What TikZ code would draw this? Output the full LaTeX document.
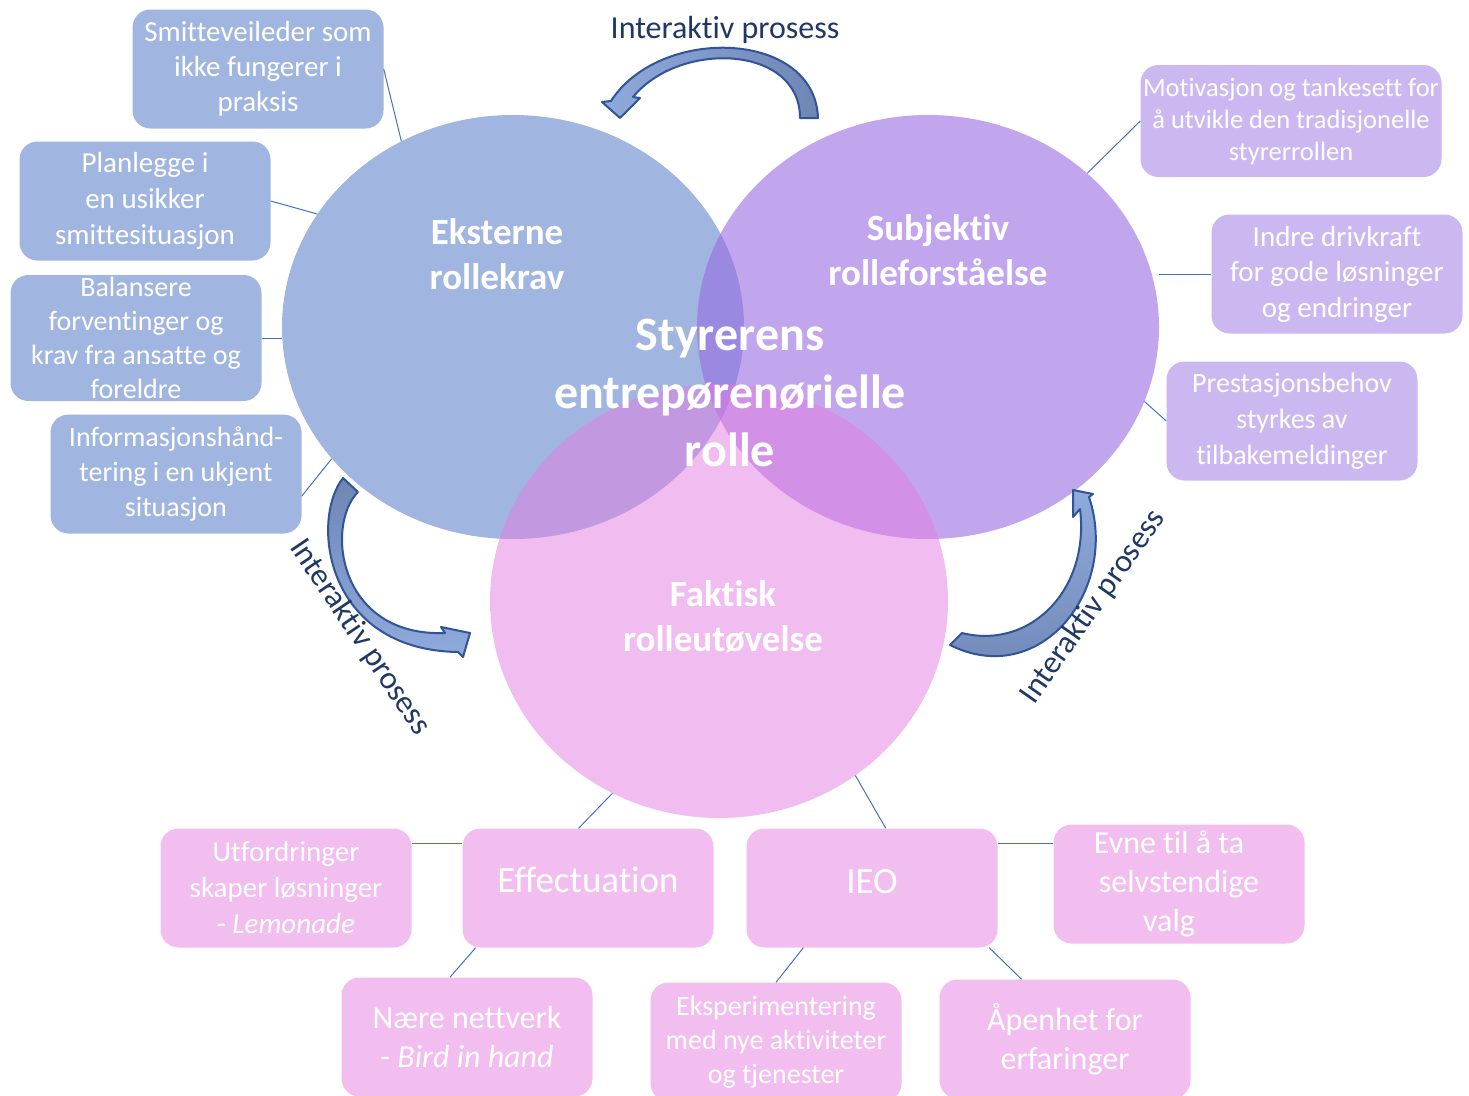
\documentclass[tikz,border=0pt]{standalone}
\usepackage{fontspec}
\setmainfont{Carlito}[Ligatures=NoCommon]
\usetikzlibrary{shapes.geometric}
\definecolor{ringblue}{HTML}{A0B6E0}
\definecolor{ringviolet}{HTML}{996BE3}
\definecolor{ringpink}{HTML}{E57BE1}
\definecolor{boxviolet}{HTML}{CCB8F0}
\definecolor{boxpink}{HTML}{F2BEF0}
\definecolor{linkblue}{HTML}{4472C4}
\definecolor{navy}{HTML}{1F3864}
\definecolor{bandlight}{HTML}{8FAADC}
\definecolor{banddark}{HTML}{6F86B4}
\definecolor{bandline}{HTML}{2F5597}

\begin{document}
\begin{tikzpicture}[x=1pt,y=-1pt,
  role/.style={ellipse,inner sep=0pt,minimum width=462pt,minimum height=424pt},
  box/.style={rounded corners=18pt,minimum width=251pt,minimum height=119pt,inner sep=0pt,align=center,text=white,font=\fontsize{28}{35}\selectfont},
  head/.style={align=center,text=white,font=\bfseries\fontsize{37}{45}\selectfont},
  link/.style={draw=linkblue,line width=1pt},
  band/.style={draw=bandline,line width=2pt,line join=round},
  proc/.style={text=navy,font=\fontsize{32}{38}\selectfont}]
\useasboundingbox (0,0) rectangle (1469,1095);
\fill[white] (0,0) rectangle (1469,1095);

% The three roles
\node[role,fill=ringblue] (ek) at (513,327) {};
\node[role,fill=ringviolet,fill opacity=0.6] (sb) at (928,327) {};
\node[role,fill=ringpink,fill opacity=0.5,minimum width=458pt,minimum height=434pt] (fa) at (719,601) {};
\node[head] (ekl) at (497,254) {Eksterne\\rollekrav};
\node[head] (sbl) at (938,250) {Subjektiv\\rolleforståelse};
\node[head] (fal) at (723,617) {Faktisk\\rolleutøvelse};
\node[head,font=\bfseries\fontsize{48}{58}\selectfont] (ttl) at (730,393) {Styrerens\\entrepørenørielle\\rolle};

% External demands
\node[box,fill=ringblue,font=\fontsize{29}{35}\selectfont] (sv) at (258,69) {Smitteveileder som\\ikke fungerer i\\praksis};
\node[box,fill=ringblue,font=\fontsize{29}{36}\selectfont] (pl) at (145,201) {Planlegge i\\en usikker\\smittesituasjon};
\node[box,fill=ringblue,minimum height=126pt,font=\fontsize{28}{34}\selectfont] (ba) at (136,338) {Balansere\\forventinger og\\krav fra ansatte og\\foreldre};
\node[box,fill=ringblue] (ih) at (176,474) {Informasjonshånd-\\tering i en ukjent\\situasjon};
% Subjective understanding
\node[box,fill=boxviolet,minimum width=301pt,minimum height=112pt,font=\fontsize{26.5}{32}\selectfont] (mo) at (1291,121) {Motivasjon og tankesett for\\å utvikle den tradisjonelle\\styrerrollen};
\node[box,fill=boxviolet,font=\fontsize{29}{35.5}\selectfont] (id) at (1337,274) {Indre drivkraft\\for gode løsninger\\og endringer};
\node[box,fill=boxviolet,font=\fontsize{28}{36}\selectfont] (pr) at (1292,421) {Prestasjonsbehov\\styrkes av\\tilbakemeldinger};
% Actual practice
\node[box,fill=boxpink,font=\fontsize{29}{36}\selectfont] (ut) at (286,888) {Utfordringer\\skaper løsninger\\- \textit{Lemonade}};
\node[box,fill=boxpink,text depth=16pt,font=\fontsize{37}{44}\selectfont] (ef) at (588,888) {Effectuation};
\node[box,fill=boxpink,text depth=14pt,font=\fontsize{37}{44}\selectfont] (ieo) at (872,888) {IEO};
\node[box,fill=boxpink,font=\fontsize{32}{39}\selectfont] (ev) at (1179,884) {Evne til å ta\hspace*{20pt}\\selvstendige\hspace*{20pt}\\valg\hspace*{20pt}};
\node[box,fill=boxpink,font=\fontsize{32}{39}\selectfont] (nn) at (467,1037) {Nære nettverk\\- \textit{Bird in hand}};
\node[box,fill=boxpink,font=\fontsize{28}{34}\selectfont] (ex) at (776,1042) {Eksperimentering\\med nye aktiviteter\\og tjenester};
\node[box,fill=boxpink,font=\fontsize{32}{39}\selectfont] (ap) at (1065,1039) {Åpenhet for\\erfaringer};

% connectors
\draw[link] (sv.east) -- (ek.121);
\draw[link] (pl.east) -- (ek.150);
\draw[link] (ba.east) -- (ba.east -| ek.west);
\draw[link] (ih.-10) -- (ek.216);
\draw[link] (mo.west) -- (sb.44);
\draw[link] (id.west) -- (id.west -| sb.east);
\draw[link] (pr.west) -- (sb.-19);
\draw[link] (ef.99) -- (fa.241);
\draw[link] (ieo.77) -- (fa.-52);
\draw[link] ([yshift=45pt]ut.east) -- ([yshift=45pt]ef.west);
\draw[link] ([yshift=45pt]ieo.east) -- ([yshift=45pt]ieo.east -| ev.west);
\draw[link] (ef.208) -- (nn.106);
\draw[link] (ieo.221) -- (ex.north);
\draw[link] (ieo.-27) -- (ap.126);

% interactive process arrows
\draw[band,left color=bandlight,right color=banddark] (818,118) .. controls (815,30) and (660,25) .. (611,101) -- (602,102) -- (620,118) -- (640,98) -- (633,97) .. controls (680,40) and (800,45) .. (800,118) -- cycle;
\draw[band,top color=banddark,bottom color=bandlight] (343,478) .. controls (310,520) and (325,650) .. (458,652) -- (463,657) -- (470,633) -- (441,627) -- (445,633) .. controls (338,637) and (325,525) .. (358,492) -- cycle;
\draw[band,top color=bandlight,bottom color=banddark] (950,645) .. controls (1040,690) and (1120,590) .. (1089,497) -- (1093,494) -- (1073,490) -- (1073,517) -- (1080,509) .. controls (1090,590) and (1030,650) .. (962,633) -- cycle;
\node[proc] (ipt) at (725,30) {Interaktiv prosess};
\node[proc,rotate=-56] (ipl) at (360,637) {Interaktiv prosess};
\node[proc,rotate=55] (ipr) at (1093,607) {Interaktiv prosess};
\end{tikzpicture}
\end{document}
